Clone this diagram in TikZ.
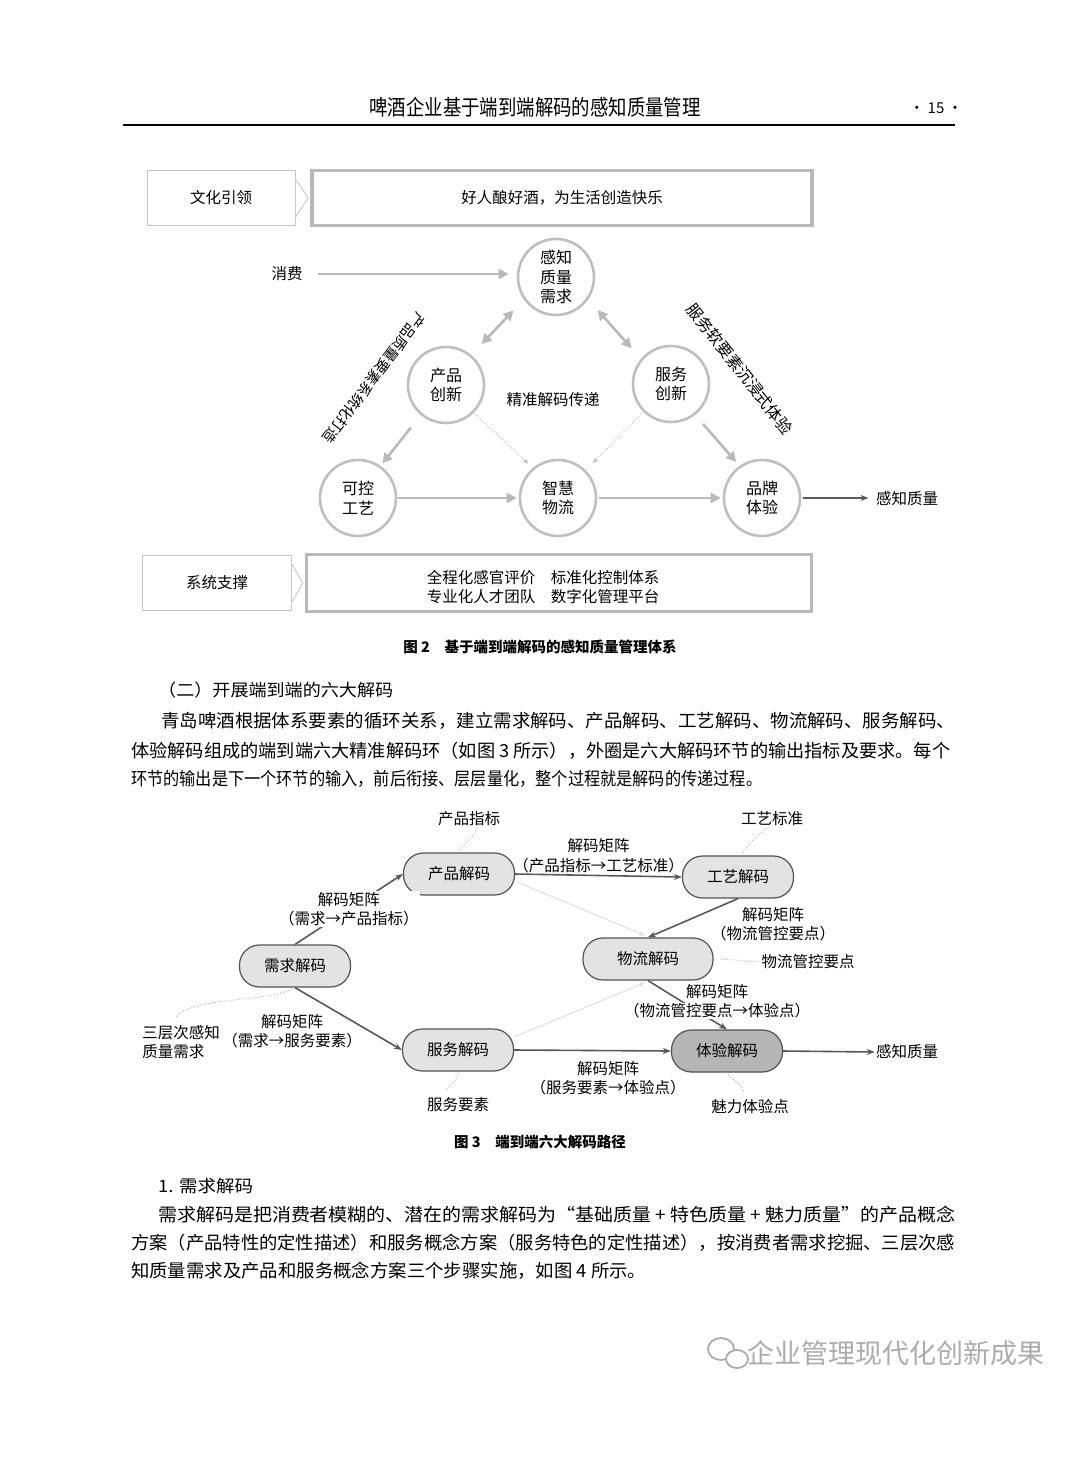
\documentclass[tikz,border=0pt]{standalone}
\usepackage{fontspec}
\usepackage{graphicx}
\setmainfont{Noto Sans CJK SC}
\usetikzlibrary{arrows.meta,calc}
\newcommand\myfs[1]{\fontsize{#1}{#1}\selectfont}
\newcommand\fitw[2]{\resizebox{#1pt}{\height}{#2}}
\begin{document}
\begin{tikzpicture}[x=1pt,y=-1pt,
  lbox/.style={draw=gray!45, line width=1pt, minimum width=148pt, minimum height=55pt, font=\myfs{15.5}},
  bbox/.style={draw=gray!55, line width=3.5pt, minimum width=500pt, minimum height=55pt, font=\myfs{15.5}},
  circ/.style={circle, draw=gray!50, line width=2.6pt, minimum size=76pt, inner sep=0pt, align=center, font={\fontsize{16}{19.5}\selectfont}},
  garr/.style={draw=gray!55, line width=2.6pt, -{Triangle[length=10pt,width=10pt]}},
  gdbl/.style={draw=gray!55, line width=2.6pt, {Triangle[length=10pt,width=10pt]}-{Triangle[length=10pt,width=10pt]}},
  gdot/.style={draw=gray!50, dotted, line width=1pt, -{Stealth[length=6pt,width=5pt]}},
  pill/.style={rounded corners=20pt, draw=gray!65!black, line width=1.2pt, fill=gray!22, minimum width=111pt, minimum height=42pt, font=\myfs{15.5}},
  darr/.style={draw=gray!70!black, line width=1.6pt, -{Stealth[length=8pt,width=6pt]}},
  larr/.style={draw=gray!25, line width=1pt, -{Stealth[length=6pt,width=5pt]}},
  lbl/.style={font={\fontsize{15.5}{19.5}\selectfont}, align=center, inner sep=1pt},
  sq/.style={draw=gray!60, dotted, line width=1pt},
  body/.style={anchor=west, inner sep=0pt, font=\myfs{18}},
  figcap/.style={font=\bfseries\myfs{14.5}}
]
\useasboundingbox[fill=white] (0,0) rectangle (1080,1465);

% header
\node[font=\myfs{20}] (hd) at (535,107) {\scalebox{0.92}[1.08]{啤酒企业基于端到端解码的感知质量管理}};
\node[font=\myfs{15}] (pg) at (936,108) {· 15 ·};
\draw[line width=2.8pt] (123,125) -- (955,125);

% ---------- Figure 2 ----------
\node[lbox] (wh) at (221,198) {文化引领};
\node[bbox] (hr) at (562,198) {好人酿好酒，为生活创造快乐};
\draw[draw=gray!40, line width=1pt] ($(wh.east)+(0,-19)$) -- ($(hr.west)+(-2,0)$) -- ($(wh.east)+(0,19)$);

\node[circ] (gz) at (556,277) {感知\\质量\\需求};
\node[circ] (cp) at (446,385) {产品\\创新};
\node[circ] (fw) at (671,384) {服务\\创新};
\node[circ] (kk) at (358,498) {可控\\工艺};
\node[circ] (zh) at (558,498) {智慧\\物流};
\node[circ] (pt) at (762,498) {品牌\\体验};

\node[font=\myfs{15.5}] (xf) at (287,274) {消费};
\draw[garr, shorten <=12pt, shorten >=8pt] (xf.east) -- (xf.east -| gz.west);
\draw[gdbl, shorten <=15pt, shorten >=15pt] (gz.215) -- (cp.50);
\draw[gdbl, shorten <=14pt, shorten >=14pt] (gz.-35) -- (fw.140);
\draw[garr, shorten <=16pt, shorten >=3pt] (cp.230) -- (kk.55);
\draw[garr, shorten <=12pt, shorten >=5pt] (fw.-52) -- (pt.125);
\draw[gdot, shorten >=6pt] (cp.-45) -- (zh.130);
\draw[gdot, shorten >=10pt] (fw.225) -- (zh.45);
\draw[garr, shorten <=1pt, shorten >=2pt] (kk) -- (zh);
\draw[garr, shorten <=2pt, shorten >=2pt] (zh) -- (pt);
\node[font=\myfs{15.5}] (gzq) at (907,499) {感知质量};
\draw[draw=gray!70!black, line width=1.3pt, -{Stealth[length=8pt,width=6pt]}, shorten <=2pt, shorten >=4pt] (pt.east) -- (pt.east -| gzq.west);

\node[font=\myfs{15.5}] (jz) at (553,400) {精准解码传递};
\node[font=\myfs{14.5}, rotate=-127] (lt) at (374,378) {产品质量要素系统化打造};
\node[font=\myfs{16}, rotate=-52] (rt) at (740,369) {服务软要素沉浸式体验};

\node[lbox, minimum width=149pt] (xt) at (217,583) {系统支撑};
\node[bbox, minimum width=505pt, minimum height=57pt] (qc) at (559,583) {};
\node[font={\fontsize{15.5}{19}\selectfont}, align=center] (qct) at (543,587) {全程化感官评价\quad 标准化控制体系\\专业化人才团队\quad 数字化管理平台};
\draw[draw=gray!40, line width=1pt] ($(xt.east)+(0,-19)$) -- ($(qc.west)+(-2,0)$) -- ($(xt.east)+(0,19)$);

\node[figcap] (cap2) at (540,647) {图 2\quad 基于端到端解码的感知质量管理体系};

% ---------- text block 1 ----------
\node[body, font=\myfs{17}] (h2) at (158,690) {\fitw{235}{（二）开展端到端的六大解码}};
\node[body] (p1) at (161,721) {\fitw{794}{青岛啤酒根据体系要素的循环关系，建立需求解码、产品解码、工艺解码、物流解码、服务解码、}};
\node[body] (p2) at (131,751) {\fitw{819}{体验解码组成的端到端六大精准解码环（如图 3 所示），外圈是六大解码环节的输出指标及要求。每个}};
\node[body] (p3) at (131,779) {\fitw{631}{环节的输出是下一个环节的输入，前后衔接、层层量化，整个过程就是解码的传递过程。}};

% ---------- Figure 3 ----------
\node[pill] (cp2) at (459,874) {产品解码};
\node[pill] (gy2) at (738,877) {工艺解码};
\node[pill] (xq2) at (295,966) {需求解码};
\node[pill, minimum width=130pt] (wl2) at (648,959) {物流解码};
\node[pill] (fw2) at (458,1050) {服务解码};
\node[pill, fill=gray!58] (ty2) at (727,1051) {体验解码};

\draw[larr] ($(cp2.east)+(2,8)$) -- ($(wl2.north)+(-3,-2)$);
\draw[larr] ($(fw2.east)+(0,-13)$) -- ($(wl2.south)+(-3,2)$);

\draw[darr] (xq2.north) -- (cp2.west) node[lbl, midway, fill=white] {解码矩阵\\（需求→产品指标）};
\draw[darr] (xq2.south) -- (fw2.west);
\node[lbl] (l2) at (292,1031) {解码矩阵\\（需求→服务要素）};
\draw[darr] (cp2.east) -- (gy2.west) node[lbl, midway, above=1pt] {解码矩阵\\（产品指标→工艺标准）};
\draw[darr] (gy2.south) -- (wl2.north);
\node[lbl] (l4) at (773,924) {解码矩阵\\（物流管控要点）};
\draw[darr] (wl2.south) -- (ty2.north);
\node[lbl] (l5a) at (717,992) {解码矩阵};
\node[lbl, fill=white] (l5b) at (717,1011) {（物流管控要点→体验点）};
\draw[darr] (fw2.east) -- (ty2.west);
\node[lbl] (l6) at (608,1078) {解码矩阵\\（服务要素→体验点）};
\node[lbl] (gzq2) at (907,1052) {感知质量};
\draw[darr] (ty2.east) -- (gzq2.west);

\node[lbl] (cpzb) at (469,819) {产品指标};
\draw[sq] (cp2.north) .. controls (462,843) and (474,838) .. ($(cpzb.south)+(8,0)$);
\node[lbl] (gybz) at (772,819) {工艺标准};
\draw[sq] ($(gy2.north)+(4,0)$) .. controls (748,843) and (758,835) .. ($(gybz.south)+(-4,0)$);
\node[lbl] (wlgk) at (808,962) {物流管控要点};
\draw[sq] ($(wl2.east)+(7,0)$) -- (wlgk.west);
\node[lbl, align=left] (scc) at (181,1042) {三层次感知\\质量需求};
\draw[sq] (xq2.south) .. controls (270,1003) and (190,996) .. ($(scc.north)+(-6,-6)$);
\node[lbl] (fwys) at (458,1105) {服务要素};
\draw[sq] (fw2.south) .. controls (460,1080) and (450,1082) .. ($(fwys.north)+(-12,-6)$);
\node[lbl] (mlty) at (750,1107) {魅力体验点};
\draw[sq] (ty2.south) .. controls (730,1080) and (742,1082) .. ($(mlty.north)+(-6,-6)$);

\node[figcap] (cap3) at (540,1142) {图 3\quad 端到端六大解码路径};

% ---------- text block 2 ----------
\node[body, font=\myfs{17}] (h3) at (158,1186) {\fitw{95}{1. 需求解码}};
\node[body] (q1) at (158,1215) {\fitw{797}{需求解码是把消费者模糊的、潜在的需求解码为“基础质量 + 特色质量 + 魅力质量”的产品概念}};
\node[body] (q2) at (131,1243) {\fitw{824}{方案（产品特性的定性描述）和服务概念方案（服务特色的定性描述），按消费者需求挖掘、三层次感}};
\node[body] (q3) at (131,1271) {\fitw{515}{知质量需求及产品和服务概念方案三个步骤实施，如图 4 所示。}};

% ---------- watermark ----------
\draw[gray!65, line width=1.8pt] (721,1349) ellipse (13 and 11);
\draw[gray!65, line width=1.8pt, fill=white] (737,1359) ellipse (11 and 9);
\node[text=gray!65, font=\myfs{27}] (wm) at (896,1353) {企业管理现代化创新成果};
\end{tikzpicture}
\end{document}
